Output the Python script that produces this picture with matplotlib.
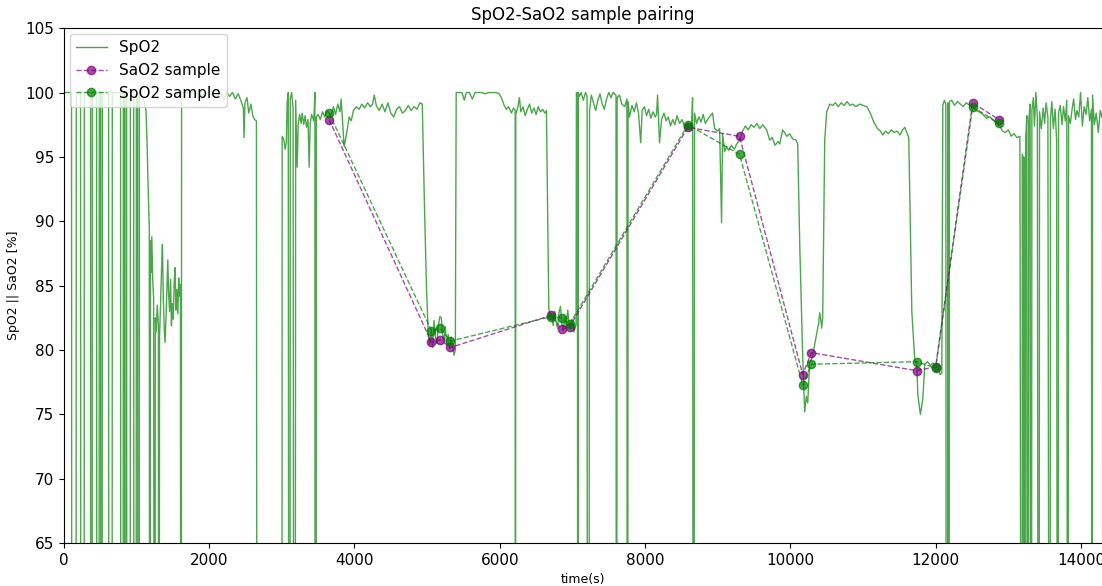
import matplotlib
matplotlib.use("Agg")
import matplotlib.pyplot as plt

# SpO2 trace (time in s, value in %); 0 = probe dropout
spo2_t = [
    0, 105, 110, 165, 170, 229, 234, 276, 281, 367, 372, 386, 391, 450, 455, 482, 487, 505, 510, 524,
    529, 615, 620, 661, 666, 780, 785, 813, 818, 835, 840, 854, 859, 863, 868, 910, 915, 960, 965, 992,
    997, 1015, 1020, 1034, 1039, 1080, 1110, 1130, 1145, 1160, 1175,
    1185, 1190, 1200, 1210, 1222, 1235, 1250, 1258, 1270, 1285, 1300, 1309, 1316, 1330, 1345, 1356, 1368,
    1380, 1392, 1405, 1418, 1430, 1442, 1455, 1468, 1480, 1492, 1505, 1518, 1530, 1542, 1555, 1568, 1580,
    1592, 1604, 1612, 1620,
    1700, 1800, 1900, 2000, 2100, 2160, 2200, 2240, 2280, 2320, 2360, 2400, 2440, 2470, 2480, 2492, 2520,
    2545, 2575, 2600, 2625, 2650, 2662, 3000, 3004, 3025, 3045, 3062, 3073, 3088, 3101, 3110, 3116, 3135,
    3155, 3169, 3180, 3190, 3211, 3225, 3245, 3265, 3280, 3300, 3320, 3340, 3360, 3376, 3390, 3410, 3440,
    3455, 3459, 3470, 3475, 3500, 3530, 3560, 3590, 3620, 3650, 3680, 3710, 3740, 3770, 3800, 3817, 3835,
    3858, 3875, 3900, 3927, 3955, 3985, 4024, 4065, 4100, 4140, 4180, 4220, 4250, 4272, 4300, 4340, 4380,
    4420, 4460, 4500, 4540, 4580, 4620, 4660, 4700, 4740, 4780, 4820, 4860, 4900, 4933,
    4960, 4990, 5016, 5035, 5055, 5075, 5095, 5115, 5135, 5155, 5175, 5195, 5210, 5230, 5250, 5270, 5290,
    5310, 5330, 5350, 5370, 5388, 5400,
    5440, 5480, 5512, 5540, 5580, 5622, 5660, 5700, 5750, 5800, 5850, 5900, 5950, 5990, 6022, 6060, 6090,
    6120, 6160, 6190, 6212, 6215, 6220, 6250, 6270, 6290, 6320, 6350, 6380, 6410, 6440, 6470, 6500, 6530,
    6560, 6590, 6620, 6642, 6660, 6675,
    6695, 6715, 6735, 6755, 6775, 6795, 6815, 6835, 6855, 6875, 6895, 6915, 6935, 6955, 6975, 6995, 7020,
    7050, 7055,
    7069, 7075, 7082, 7097, 7120, 7150, 7180, 7202, 7207, 7221, 7235, 7260, 7290, 7320, 7350, 7380, 7410,
    7440, 7470, 7500, 7530, 7560, 7600, 7607, 7615, 7648, 7680, 7720, 7750, 7758, 7766, 7786, 7820, 7850,
    7880, 7910, 7940, 7960, 7990, 8020, 8050, 8080, 8110, 8140, 8158, 8172, 8199, 8227, 8260, 8290, 8320,
    8350, 8380, 8410, 8440, 8475, 8510, 8545, 8580, 8610, 8640, 8654, 8668, 8681, 8710, 8740, 8770, 8800,
    8830, 8860, 8900, 8929, 8957, 9000, 9026, 9053, 9067, 9095, 9122, 9150, 9190, 9230, 9260, 9302, 9343,
    9380, 9420, 9460, 9500, 9540, 9580, 9620, 9674, 9715, 9750, 9790, 9830, 9853, 9894, 9920, 9949, 9990,
    10032, 10080, 10101, 10130, 10170, 10197, 10220, 10239, 10266, 10307, 10340, 10363, 10390, 10404,
    10420, 10431, 10445, 10473, 10500, 10542, 10583, 10620, 10660, 10700, 10740, 10780, 10820, 10860,
    10900, 10955, 11000, 11052, 11100, 11150, 11200, 11240, 11272, 11310, 11350, 11390, 11430, 11470,
    11510, 11545, 11575, 11603, 11630, 11644, 11672, 11713, 11740, 11755, 11790, 11823, 11851, 11890,
    11930, 11961, 12000, 12030, 12060, 12085, 12099, 12120, 12140, 12150, 12162, 12170, 12181, 12190,
    12220, 12260, 12300, 12340, 12380, 12420, 12471, 12512, 12560, 12600, 12650, 12700, 12750, 12800,
    12843, 12884, 12920, 12960, 13000, 13040, 13080, 13120, 13160,
    13187, 13195, 13205, 13215, 13230, 13240, 13256, 13270, 13282, 13300, 13315, 13325, 13345, 13360,
    13380, 13400, 13420, 13430, 13455, 13480, 13500, 13520, 13545, 13573, 13580, 13600, 13620, 13645,
    13665, 13683, 13692, 13715, 13740, 13760, 13785, 13805, 13821, 13830, 13855, 13880, 13900, 13925,
    13945, 13970, 13995, 14020, 14045, 14070, 14095, 14120, 14145, 14152, 14160, 14185, 14210, 14240,
    14265, 14290,
]
spo2_v = [
    100, 100, 0, 0, 100, 100, 0, 0, 100, 100, 0, 0, 100, 100, 0, 0, 100, 100, 0, 0,
    100, 100, 0, 0, 100, 100, 0, 0, 100, 100, 0, 0, 100, 100, 0, 0, 100, 100, 0, 0,
    100, 100, 0, 0, 99.8, 99.7, 99.2, 98.6, 96, 92.5, 89.5,
    0, 88.5, 86, 88.8, 85.5, 84, 0, 82.5, 81.4, 83.5, 82, 0, 81, 83.5, 86.5, 88.2, 84,
    81.8, 80.6, 82.5, 84.8, 87, 84.3, 83, 85.5, 81.9, 83.6, 82.4, 85.2, 86.4, 83.1, 84.7, 82.8, 85.6,
    84.2, 85.1, 0, 100,
    100, 100, 99.8, 100, 99.6, 100, 99.4, 100, 99.7, 100, 99.5, 99.9, 99.3, 98.8, 96.5, 99.2, 99.6,
    98.4, 99.1, 98.2, 97.9, 97.8, 0, 0, 96.6, 96.4, 95.6, 96.1, 99.2, 100, 0, 0, 99.5, 100,
    98.8, 0, 0, 99.4, 94.2, 97.5, 98.3, 97.6, 98.4, 97.5, 98.2, 97.3, 97.9, 94.2, 97.6, 98.3, 97.8,
    100, 0, 0, 98.1, 98.3, 97.9, 98.5, 98.1, 98.6, 98.4, 98.2, 98.9, 98.3, 99.1, 98.5, 99.5, 97.8,
    95.8, 96.3, 97.1, 98.1, 97.8, 98.6, 98.9, 98.7, 99.1, 98.8, 99.2, 98.9, 99.1, 99.8, 99.0, 98.6, 99.1,
    98.5, 99.2, 98.4, 98.1, 98.7, 98.9, 98.4, 98.6, 99, 98.6, 98.9, 98.7, 99.2, 99.1,
    92, 85, 81.2, 80.4, 81.6, 80.2, 82.3, 81.0, 80.5, 81.9, 82.6, 82.5, 81.3, 80.7, 81.8, 80.4, 81.2,
    80.1, 81.0, 80.3, 79.6, 80, 100,
    100, 100, 99.4, 100, 100, 99.5, 100, 100, 100, 99.9, 100, 100, 100, 99.9, 99.6, 99.0, 98.7,
    98.9, 98.4, 98.8, 98.6, 0, 98.3, 98.9, 99.6, 98.5, 98.9, 98.2, 98.7, 99.1, 98.4, 98.8, 98.3, 98.9,
    98.5, 98.7, 98.4, 98.6, 90, 83.2,
    82.6, 82.7, 81.9, 83.0, 82.2, 81.7, 82.9, 83.4, 82.1, 81.5, 82.6, 81.8, 83.1, 82.0, 81.6, 82.4, 81.4,
    82, 100,
    100, 0, 100, 99.7, 100, 99.4, 100, 99.7, 0, 0, 98.5, 99.8, 99.2, 98.6, 99.4, 99.9, 99.1,
    98.7, 99.5, 100, 99.6, 100, 99.8, 0, 99.6, 99.8, 99.1, 98.9, 99.5, 0, 99.3, 98.1, 99.0, 98.5,
    99.2, 98.4, 96.1, 98.6, 98.9, 98.2, 98.7, 98.0, 98.5, 98.1, 98.3, 99.8, 96.1, 97.9, 98.4, 97.8, 98.1,
    97.4, 97.9, 97.5, 98.2, 97.6, 97.9, 97.3, 97.6, 97.2, 97.5, 99.6, 0, 98.4, 97.6, 98.1, 97.7, 98.3,
    97.6, 97.9, 98.2, 98.4, 97.2, 97.0, 97.2, 89.9, 96.8, 95.4, 95.8, 95.5, 95.9, 95.6, 96.0, 96.3, 97.0,
    97.4, 97.1, 97.5, 97.3, 97.6, 97.2, 97.5, 97.1, 96.3, 96.5, 95.9, 96.2, 96.0, 97.1, 96.9, 96.6, 96.8,
    96.4, 96.3, 96.0, 88, 79.5, 75.2, 76.4, 75.9, 79.0, 79.5, 80.6, 81.3, 82.1, 82.9,
    82.3, 81.7, 82.5, 96.3, 98.5, 99.1, 99.0, 99.2, 98.9, 99.2, 99.0, 99.3, 99.0, 99.1,
    98.9, 99.1, 99.0, 98.9, 98.4, 97.7, 97.2, 97.0, 96.7, 97.0, 96.8, 97.1, 96.9, 97.0,
    96.7, 97.1, 97.3, 96.9, 96.5, 92, 83, 79.2, 79.0, 76.5, 75.0, 76.2, 78.9, 79.1,
    78.8, 79.0, 78.6, 78.9, 78.1, 78.2, 99.0, 99.4, 99.1, 0, 0, 99.2, 0, 99.3,
    99.4, 99.0, 99.3, 99.1, 98.9, 99.2, 99.0, 98.8, 98.6, 98.5, 98.3, 98.0, 98.1, 97.8,
    97.6, 97.4, 97.0, 96.9, 97.1, 96.6, 96.8, 96.5, 96.6,
    0, 95.2, 0, 95.0, 0, 96.5, 98.2, 0, 97.8, 99.1, 0, 98.6, 99.6, 97.4,
    100, 98.0, 0, 98.5, 97.2, 98.8, 97.6, 99.2, 98.1, 0, 97.9, 99.3, 97.2, 98.7,
    96.3, 0, 98.4, 99.0, 97.5, 98.9, 97.8, 99.4, 0, 98.2, 97.6, 98.8, 99.5, 97.9,
    98.6, 98.1, 100, 97.4, 98.9, 98.3, 99.6, 97.8, 98.7, 0, 99.8, 97.5, 98.4, 96.9,
    98.6, 98.1,
]

# paired blood-gas samples
sample_t = [3650, 5060, 5180, 5320, 6710, 6850, 6960, 8590, 9300, 10170, 10290, 11740, 12000, 12510, 12870]
sao2_sample = [97.9, 80.6, 80.8, 80.2, 82.7, 81.6, 81.8, 97.3, 96.6, 78.1, 79.8, 78.4, 78.7, 99.2, 97.9]
spo2_sample = [98.4, 81.5, 81.7, 80.7, 82.6, 82.5, 82.0, 97.5, 95.2, 77.3, 78.9, 79.1, 78.6, 98.9, 97.6]

fig = plt.figure(figsize=(11.02, 5.86), dpi=100)
ax = fig.add_axes([0.058, 0.073, 0.942, 0.879])

ax.plot(spo2_t, spo2_v, color="green", alpha=0.7, linewidth=1, label="SpO2")
ax.plot(sample_t, sao2_sample, "o--", color="purple", alpha=0.7, linewidth=1,
        markersize=6, label="SaO2 sample")
ax.plot(sample_t, spo2_sample, "o--", color="green", alpha=0.7, linewidth=1,
        markersize=6, label="SpO2 sample")

ax.set_xlim(0, 14290)
ax.set_ylim(65, 105)
ax.set_title("SpO2-SaO2 sample pairing", fontsize=12)
ax.set_xlabel("time(s)", fontsize=9)
ax.set_ylabel("SpO2 || SaO2 [%]", fontsize=9)
ax.tick_params(labelsize=11)
ax.legend(loc="upper left", fontsize=11, borderaxespad=0.4)

fig.savefig("out.png", dpi=100)
